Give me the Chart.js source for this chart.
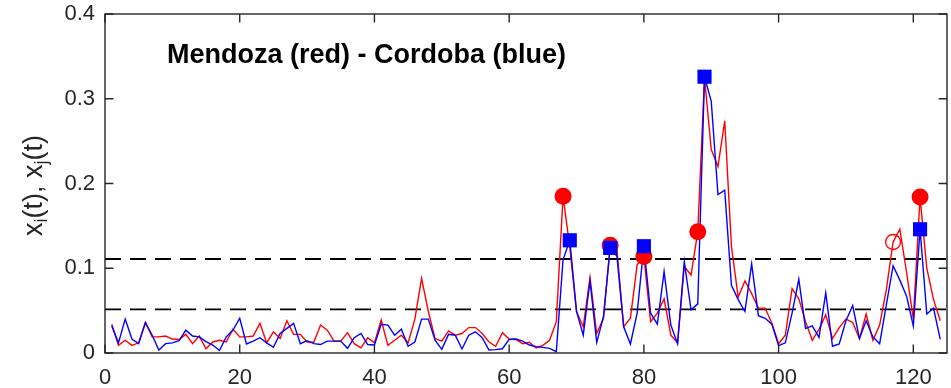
<!DOCTYPE html>
<html><head><meta charset="utf-8">
<script src="https://cdn.jsdelivr.net/npm/chart.js@4/dist/chart.umd.min.js"></script>
<style>
html,body{margin:0;padding:0;overflow:hidden;background:#fff;}
#wrap{position:relative;width:951px;height:386px;overflow:hidden;}
</style></head><body>
<div id="wrap"><canvas id="c" width="951" height="410"></canvas></div>
<script>
// ---- data ----
const xTicks = [0, 20, 40, 60, 80, 100, 120];
const yTicks = [0, 0.1, 0.2, 0.3, 0.4];
const yTickLabels = ['0', '0.1', '0.2', '0.3', '0.4'];
const xRange = [0, 125];
const yRange = [0, 0.4];
const titleText = 'Mendoza (red) - Cordoba (blue)';

// Mendoza (red), t = 1..124
const mendoza = [
 0.034,0.009,0.015,0.009,0.012,0.036,0.019,0.019,0.020,0.0165,
 0.016,0.022,0.011,0.020,0.005,0.013,0.015,0.013,0.028,0.019,
 0.019,0.020,0.035,0.012,0.025,0.017,0.038,0.022,0.022,0.013,
 0.0126,0.033,0.027,0.014,0.014,0.024,0.011,0.006,0.018,0.012,
 0.039,0.009,0.015,0.021,0.012,0.040,0.088,0.049,0.017,0.014,
 0.026,0.021,0.023,0.030,0.030,0.023,0.013,0.008,0.024,0.0165,
 0.016,0.011,0.0126,0.006,0.009,0.015,0.037,0.185,0.125,0.049,
 0.031,0.089,0.023,0.041,0.127,0.122,0.031,0.041,0.104,0.114,
 0.037,0.047,0.064,0.021,0.012,0.102,0.092,0.143,0.325,0.240,
 0.220,0.274,0.1255,0.066,0.085,0.070,0.053,0.053,0.035,0.011,
 0.021,0.076,0.064,0.037,0.015,0.028,0.045,0.017,0.030,0.040,
 0.036,0.017,0.046,0.015,0.033,0.075,0.131,0.146,0.095,0.040,
 0.184,0.100,0.063,0.038
];
// Cordoba (blue), t = 1..124
const cordoba = [
 0.032,0.012,0.040,0.0165,0.011,0.036,0.021,0.0035,0.011,0.012,
 0.0145,0.027,0.020,0.019,0.0134,0.0094,0.003,0.019,0.027,0.041,
 0.0106,0.014,0.018,0.012,0.0067,0.023,0.029,0.035,0.011,0.0145,
 0.011,0.010,0.014,0.014,0.014,0.0055,0.018,0.023,0.010,0.0094,
 0.034,0.033,0.021,0.028,0.008,0.013,0.040,0.040,0.015,0.0043,
 0.022,0.021,0.0047,0.021,0.025,0.018,0.0035,0.004,0.005,0.016,
 0.0165,0.014,0.0094,0.0075,0.0067,0.0055,0.0016,0.110,0.133,0.049,
 0.021,0.085,0.0126,0.043,0.124,0.114,0.031,0.0106,0.047,0.126,
 0.047,0.034,0.096,0.033,0.011,0.108,0.051,0.058,0.326,0.297,
 0.187,0.192,0.080,0.063,0.049,0.105,0.044,0.041,0.034,0.0087,
 0.012,0.047,0.087,0.029,0.032,0.0185,0.071,0.008,0.0106,0.038,
 0.056,0.017,0.038,0.019,0.011,0.057,0.103,0.086,0.067,0.032,
 0.146,0.046,0.053,0.016
];
const upperThreshold = 0.111;
const lowerThreshold = 0.0515;
const mendozaPeaks = [68, 75, 80, 88, 121];
const mendozaOpenPeaks = [117];
const cordobaPeaks = [69, 75, 80, 89, 121];

// ---- build ----
const toXY = arr => arr.map((v, i) => ({x: i + 1, y: v}));
const pick = (arr, idx) => idx.map(t => ({x: t, y: arr[t - 1]}));
const hline = v => [{x: xRange[0], y: v}, {x: xRange[1], y: v}];

const AX = '#262626';
const FONT = "'Liberation Sans', Arial, sans-serif";

const framePlugin = {
  id: 'frame',
  afterDraw(chart) {
    const ctx = chart.ctx, a = chart.chartArea;
    const xs = chart.scales.x, ys = chart.scales.y;
    ctx.save();
    ctx.strokeStyle = AX; ctx.lineWidth = 1.4;
    ctx.strokeRect(a.left, a.top, a.right - a.left, a.bottom - a.top);
    const tl = 8.4;
    ctx.beginPath();
    xTicks.forEach(v => {
      const px = xs.getPixelForValue(v);
      ctx.moveTo(px, a.bottom); ctx.lineTo(px, a.bottom - tl);
      ctx.moveTo(px, a.top); ctx.lineTo(px, a.top + tl);
    });
    yTicks.forEach(v => {
      const py = ys.getPixelForValue(v);
      ctx.moveTo(a.left, py); ctx.lineTo(a.left + tl, py);
      ctx.moveTo(a.right, py); ctx.lineTo(a.right - tl, py);
    });
    ctx.stroke();
    // title inside the plot
    ctx.fillStyle = '#000';
    ctx.font = 'bold 27px ' + FONT;
    ctx.textBaseline = 'alphabetic'; ctx.textAlign = 'left';
    ctx.fillText(titleText, 167, 63);
    // y-axis label with subscripts
    const parts = [['x', 0], ['i', 1], ['(t), x', 0], ['j', 1], ['(t)', 0]];
    const mainF = '27px ' + FONT, subF = '18px ' + FONT;
    let w = 0;
    parts.forEach(p => { ctx.font = p[1] ? subF : mainF; w += ctx.measureText(p[0]).width; });
    ctx.translate(42, (a.top + a.bottom) / 2 + 2);
    ctx.rotate(-Math.PI / 2);
    ctx.fillStyle = AX;
    let cx = -w / 2;
    parts.forEach(p => {
      ctx.font = p[1] ? subF : mainF;
      ctx.fillText(p[0], cx, p[1] ? 5 : 0);
      cx += ctx.measureText(p[0]).width;
    });
    ctx.restore();
  }
};

new Chart(document.getElementById('c'), {
  type: 'line',
  data: {
    datasets: [
      {label: 'Mendoza peaks', type: 'scatter', data: pick(mendoza, mendozaPeaks), order: 2,
       pointStyle: 'circle', pointRadius: 8.5, pointBackgroundColor: '#ff0000', pointBorderWidth: 0, pointBorderColor: '#ff0000', showLine: false},
      {label: 'Mendoza open', type: 'scatter', data: pick(mendoza, mendozaOpenPeaks), order: 2,
       pointStyle: 'circle', pointRadius: 7.5, pointBackgroundColor: 'rgba(255,255,255,0)', pointBorderWidth: 1.3, pointBorderColor: '#ff0000', showLine: false},
      {label: 'Cordoba peaks', type: 'scatter', data: pick(cordoba, cordobaPeaks), order: 1,
       pointStyle: 'rect', pointRadius: 10, pointBackgroundColor: '#0000ff', pointBorderWidth: 0, pointBorderColor: '#0000ff', showLine: false},
      {label: 'Cordoba', data: toXY(cordoba), order: 3, borderColor: '#0000ff', borderWidth: 1.4, pointRadius: 0, tension: 0, fill: false},
      {label: 'Mendoza', data: toXY(mendoza), order: 4, borderColor: '#ff0000', borderWidth: 1.4, pointRadius: 0, tension: 0, fill: false},
      {label: 'upper', data: hline(upperThreshold), order: 5, borderColor: '#000', borderWidth: 1.9, borderDash: [16, 9], pointRadius: 0},
      {label: 'lower', data: hline(lowerThreshold), order: 5, borderColor: '#000', borderWidth: 1.9, borderDash: [16, 9], pointRadius: 0}
    ]
  },
  options: {
    responsive: false, animation: false, devicePixelRatio: 1,
    layout: {autoPadding: false, padding: {top: 14, right: 4, left: 0, bottom: 0}},
    plugins: {legend: {display: false}, tooltip: {enabled: false}, title: {display: false}},
    scales: {
      x: {
        type: 'linear', min: xRange[0], max: xRange[1],
        grid: {display: false, drawTicks: false}, border: {display: false},
        afterBuildTicks: s => { s.ticks = xTicks.map(v => ({value: v})); },
        afterFit: s => { s.height = 57; s.paddingLeft = 0; s.paddingRight = 0; },
        ticks: {color: AX, font: {family: FONT, size: 22}, padding: 12, maxRotation: 0, autoSkip: false}
      },
      y: {
        type: 'linear', min: yRange[0], max: yRange[1],
        grid: {display: false, drawTicks: false}, border: {display: false},
        afterBuildTicks: s => { s.ticks = yTicks.map(v => ({value: v})); },
        afterFit: s => { s.width = 105; s.paddingTop = 0; s.paddingBottom = 0; },
        ticks: {color: AX, font: {family: FONT, size: 22}, padding: 10, autoSkip: false,
                callback: (v) => yTickLabels[yTicks.indexOf(v)] ?? ''}
      }
    }
  },
  plugins: [framePlugin]
});
</script>
</body></html>
